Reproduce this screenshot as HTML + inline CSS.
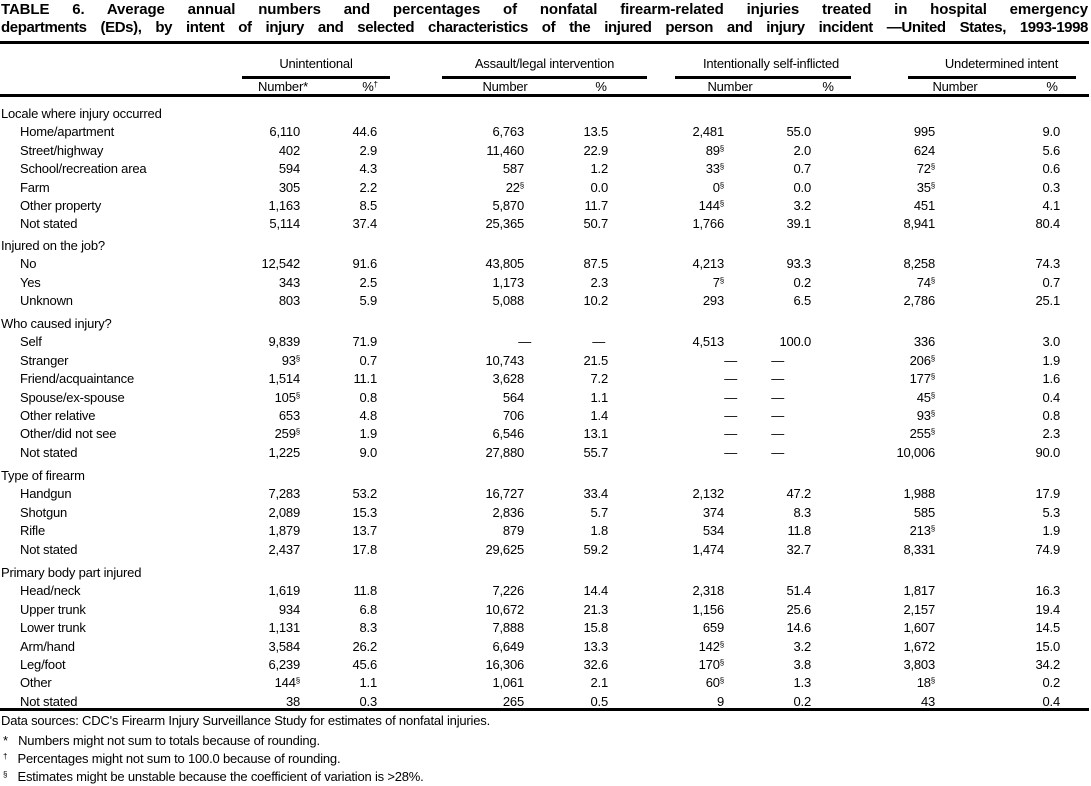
<!DOCTYPE html>
<html><head><meta charset="utf-8">
<style>
body{margin:0;background:#fff;width:1091px;height:786px;overflow:hidden;position:relative;font-family:"Liberation Sans",Arial,sans-serif;color:#000}
.t{position:absolute;font-size:13px;line-height:15px;white-space:nowrap;letter-spacing:-0.2px}
.r{text-align:right}
.rule{position:absolute;background:#000}
.ttl{position:absolute;left:1px;width:1087px;font-weight:bold;font-size:15px;line-height:18px;text-align:justify;text-align-last:justify;white-space:nowrap;letter-spacing:-0.1px}
sup{font-size:8px;vertical-align:top;position:relative;top:-2px}
</style></head><body>
<div class="ttl" style="top:1px">TABLE 6. Average annual numbers and percentages of nonfatal firearm-related injuries treated in hospital emergency</div>
<div class="ttl" style="top:19px;letter-spacing:-0.4px">departments (EDs), by intent of injury and selected characteristics of the injured person and injury incident —United States, 1993-1998</div>
<div class="rule" style="left:0;top:41px;width:1089px;height:3px"></div>

<div class="t" style="left:242px;width:148px;top:56px;text-align:center">Unintentional</div>
<div class="t" style="left:442px;width:205px;top:56px;text-align:center">Assault/legal intervention</div>
<div class="t" style="left:678px;width:186px;top:56px;text-align:center">Intentionally self-inflicted</div>
<div class="t" style="left:914px;width:175px;top:56px;text-align:center">Undetermined intent</div>
<div class="rule" style="left:242px;top:76px;width:148px;height:3px"></div>
<div class="rule" style="left:442px;top:76px;width:205px;height:3px"></div>
<div class="rule" style="left:675px;top:76px;width:176px;height:3px"></div>
<div class="rule" style="left:908px;top:76px;width:168px;height:3px"></div>
<div class="rule" style="left:0;top:94px;width:1089px;height:3px"></div>
<div class="rule" style="left:0;top:708px;width:1089px;height:3px"></div>

<div class="t" style="left:1px;top:713px">Data sources: CDC's Firearm Injury Surveillance Study for estimates of nonfatal injuries.</div>
<div class="t" style="left:3px;top:733px">*&nbsp;&nbsp; Numbers might not sum to totals because of rounding.</div>
<div class="t" style="left:3px;top:751px"><sup>†</sup>&nbsp;&nbsp; Percentages might not sum to 100.0 because of rounding.</div>
<div class="t" style="left:3px;top:769px"><sup>§</sup>&nbsp;&nbsp; Estimates might be unstable because the coefficient of variation is &gt;28%.</div>

<script>
const colRights=[300,377,524,608,724,811,935,1060];
const subHeads=["Number*","%†","Number","%","Number","%","Number","%"];
const subCenters=[283,370,505,601,730,828,955,1052];
const sections=[
 {t:"Locale where injury occurred",y:106,rows:[
  ["Home/apartment","6,110","44.6","6,763","13.5","2,481","55.0","995","9.0"],
  ["Street/highway","402","2.9","11,460","22.9","89§","2.0","624","5.6"],
  ["School/recreation area","594","4.3","587","1.2","33§","0.7","72§","0.6"],
  ["Farm","305","2.2","22§","0.0","0§","0.0","35§","0.3"],
  ["Other property","1,163","8.5","5,870","11.7","144§","3.2","451","4.1"],
  ["Not stated","5,114","37.4","25,365","50.7","1,766","39.1","8,941","80.4"]]},
 {t:"Injured on the job?",y:238,rows:[
  ["No","12,542","91.6","43,805","87.5","4,213","93.3","8,258","74.3"],
  ["Yes","343","2.5","1,173","2.3","7§","0.2","74§","0.7"],
  ["Unknown","803","5.9","5,088","10.2","293","6.5","2,786","25.1"]]},
 {t:"Who caused injury?",y:316,rows:[
  ["Self","9,839","71.9","—","—","4,513","100.0","336","3.0"],
  ["Stranger","93§","0.7","10,743","21.5","—","—","206§","1.9"],
  ["Friend/acquaintance","1,514","11.1","3,628","7.2","—","—","177§","1.6"],
  ["Spouse/ex-spouse","105§","0.8","564","1.1","—","—","45§","0.4"],
  ["Other relative","653","4.8","706","1.4","—","—","93§","0.8"],
  ["Other/did not see","259§","1.9","6,546","13.1","—","—","255§","2.3"],
  ["Not stated","1,225","9.0","27,880","55.7","—","—","10,006","90.0"]]},
 {t:"Type of firearm",y:468,rows:[
  ["Handgun","7,283","53.2","16,727","33.4","2,132","47.2","1,988","17.9"],
  ["Shotgun","2,089","15.3","2,836","5.7","374","8.3","585","5.3"],
  ["Rifle","1,879","13.7","879","1.8","534","11.8","213§","1.9"],
  ["Not stated","2,437","17.8","29,625","59.2","1,474","32.7","8,331","74.9"]]},
 {t:"Primary body part injured",y:565,rows:[
  ["Head/neck","1,619","11.8","7,226","14.4","2,318","51.4","1,817","16.3"],
  ["Upper trunk","934","6.8","10,672","21.3","1,156","25.6","2,157","19.4"],
  ["Lower trunk","1,131","8.3","7,888","15.8","659","14.6","1,607","14.5"],
  ["Arm/hand","3,584","26.2","6,649","13.3","142§","3.2","1,672","15.0"],
  ["Leg/foot","6,239","45.6","16,306","32.6","170§","3.8","3,803","34.2"],
  ["Other","144§","1.1","1,061","2.1","60§","1.3","18§","0.2"],
  ["Not stated","38","0.3","265","0.5","9","0.2","43","0.4"]]}
];
function fmt(s){return s.replace("§","<sup>§</sup>");}
function mk(html,cls,left,top,name){
 const d=document.createElement('div');
 d.className='t'+(cls?' '+cls:'');
 d.innerHTML=html;d.style.left=left+'px';d.style.top=top+'px';
 
 
 document.body.appendChild(d);return d;
}
subHeads.forEach((h,i)=>{
 const d=mk(h.replace("†","<sup>†</sup>"),'',subCenters[i]-40,79,'subheader-'+i);
 d.style.width='80px';d.style.textAlign='center';
});
const rowH=18.4;
sections.forEach((s,si)=>{
 mk(s.t,'',1,s.y,'section-'+si);
 s.rows.forEach((r,ri)=>{
  const y=s.y+rowH*(ri+1);
  mk(r[0],'',20,y,'row-label-'+si+'-'+ri);
  for(let c=1;c<9;c++){
   let right=colRights[c-1];
   if(r[c]==="—"){ if(c===5) right=737; if(c===6) right=784; if(c===3) right=531; if(c===4) right=605; }
   const d=mk(fmt(r[c]),'r',right-80,y,'cell-'+si+'-'+ri+'-'+c);
   d.style.width='80px';
  }
 });
});
</script>
</body></html>
